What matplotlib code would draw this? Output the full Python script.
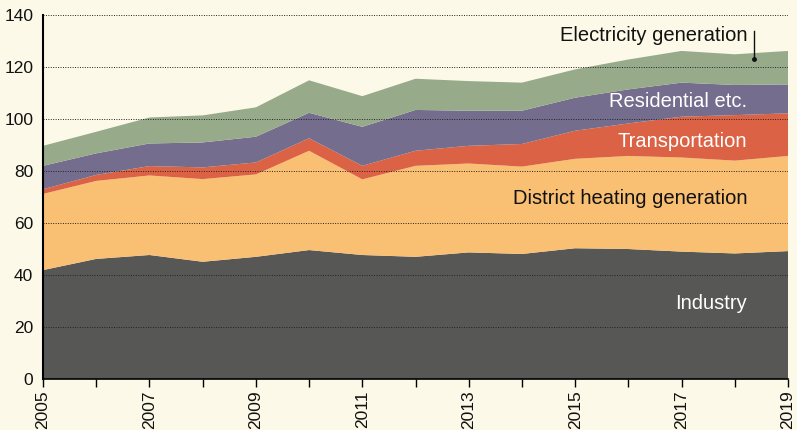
import matplotlib
matplotlib.use('Agg')
import matplotlib.pyplot as plt
import numpy as np

plt.rcParams['font.family'] = ['Liberation Sans', 'DejaVu Sans']

years = list(range(2005, 2020))
industry = [41.9, 46.2, 47.7, 45.1, 47.0, 49.6, 47.7, 47.0, 48.7, 48.1, 50.3, 50.0, 49.0, 48.3, 49.2]
district_heating = [29.3, 30.0, 30.6, 31.8, 31.7, 38.2, 29.1, 35.0, 34.2, 33.6, 34.4, 35.8, 36.2, 35.7, 36.6]
transportation = [1.8, 2.3, 3.6, 4.5, 4.6, 4.8, 5.2, 5.8, 6.8, 8.7, 10.8, 12.5, 15.7, 17.5, 16.4]
residential = [9.0, 8.3, 8.7, 9.6, 9.9, 9.8, 15.0, 15.7, 13.5, 12.8, 12.7, 13.1, 13.1, 11.6, 11.1]
electricity = [7.7, 8.3, 10.0, 10.4, 11.3, 12.5, 11.8, 12.0, 11.4, 10.8, 10.9, 11.5, 12.2, 11.8, 12.9]

colors = ["#575756", "#F9BF73", "#DB6244", "#756D8D", "#97AB8A"]
bg = "#FCF9E8"

fig = plt.figure(figsize=(7.97, 4.30), dpi=100, facecolor=bg)
ax = fig.add_axes([0.054, 0.1186, 0.9347, 0.8464], facecolor=bg)

ax.stackplot(years, industry, district_heating, transportation, residential, electricity,
             colors=colors, linewidth=0, zorder=1)

ax.set_xlim(2005, 2019)
ax.set_ylim(0, 140)
ax.set_yticks(range(0, 141, 20))
ax.set_xticks(years)
ax.set_xticklabels([str(y) if (y - 2005) % 2 == 0 else "" for y in years],
                   rotation=90, fontsize=12.5)
ax.tick_params(axis='y', length=0, labelsize=12.5, pad=7, labelcolor="#111111")
ax.tick_params(axis='x', direction='out', length=6, width=1, pad=2, labelcolor="#111111")

ax.grid(True, axis='y', linestyle=(0, (1, 1.5)), color="#222222", linewidth=0.7, zorder=2)
ax.set_axisbelow(False)
for s in ["top", "right"]:
    ax.spines[s].set_visible(False)
ax.spines["left"].set_linewidth(1.5)
ax.spines["bottom"].set_linewidth(1.2)
ax.spines["left"].set_zorder(3)

tx = 2018.23
fs = 14.5
ax.text(tx, 132.3, "Electricity generation", ha="right", va="center", fontsize=fs, color="#111111")
ax.text(tx, 106.9, "Residential etc.", ha="right", va="center", fontsize=fs, color="white")
ax.text(tx, 91.5, "Transportation", ha="right", va="center", fontsize=fs, color="white")
ax.text(tx, 69.6, "District heating generation", ha="right", va="center", fontsize=fs, color="#111111")
ax.text(tx, 29.2, "Industry", ha="right", va="center", fontsize=fs, color="white")

ax.plot([2018.36, 2018.36], [133.8, 123.1], color="#111111", linewidth=1, zorder=4)
ax.plot([2018.36], [123.1], marker="o", markersize=2.5, color="#111111", zorder=4)

fig.savefig("out.png", dpi=100, facecolor=bg)
